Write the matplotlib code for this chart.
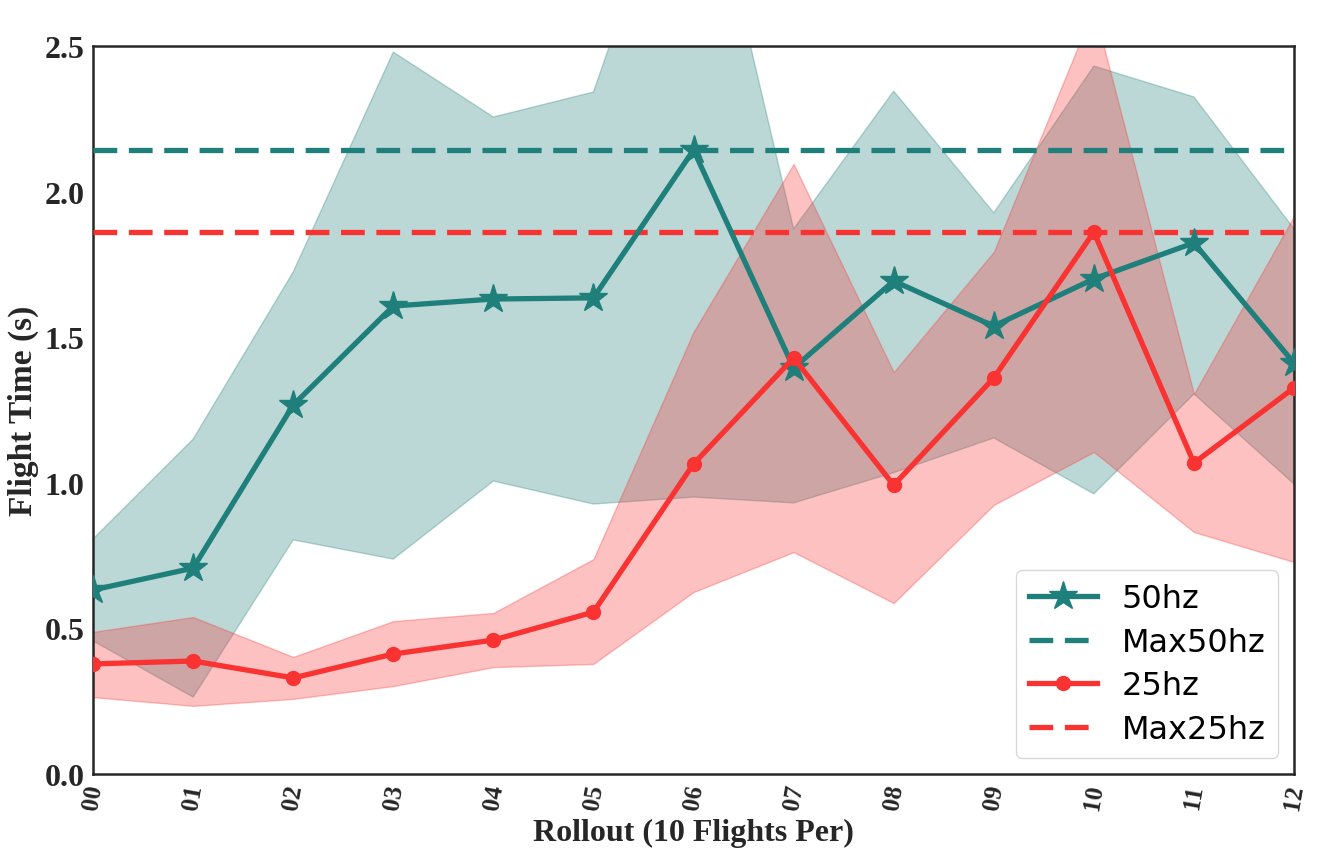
#!/usr/bin/env python3
# -*- coding: utf-8 -*-
"""
Flight time per rollout for the 50hz and 25hz controllers, with spread bands.
"""

import matplotlib
matplotlib.use('Agg')
import matplotlib.pyplot as plt
import numpy as np

rollouts = ['00', '01', '02', '03', '04', '05', '06', '07', '08', '09', '10', '11', '12']

mean_50hz = [0.632, 0.707, 1.267, 1.607, 1.631, 1.635, 2.143, 1.394, 1.693, 1.538, 1.700, 1.824, 1.411]
upper_50hz = [0.807, 1.150, 1.724, 2.479, 2.256, 2.342, 3.33, 1.872, 2.345, 1.927, 2.431, 2.325, 1.872]
lower_50hz = [0.457, 0.264, 0.804, 0.738, 1.006, 0.927, 0.951, 0.931, 1.035, 1.154, 0.962, 1.305, 0.996]

mean_25hz = [0.378, 0.388, 0.330, 0.412, 0.460, 0.556, 1.065, 1.429, 0.992, 1.360, 1.861, 1.068, 1.326]
upper_25hz = [0.488, 0.539, 0.402, 0.525, 0.553, 0.738, 1.518, 2.095, 1.38, 1.793, 2.63, 1.305, 1.916]
lower_25hz = [0.264, 0.234, 0.258, 0.302, 0.367, 0.378, 0.625, 0.762, 0.587, 0.924, 1.106, 0.831, 0.728]

max_50hz = max(mean_50hz)
max_25hz = max(mean_25hz)

TEAL = '#1f7f7a'
RED = '#f93232'


def plot_flight_times(file_out):
    figure = plt.figure(figsize=(13.39, 8.54), dpi=100)
    axes = figure.add_axes([0.0695, 0.0925, 0.8969, 0.8525])
    x = np.arange(len(rollouts))

    axes.fill_between(x, lower_50hz, upper_50hz, color=TEAL, alpha=0.3, linewidth=1)
    axes.fill_between(x, lower_25hz, upper_25hz, color=RED, alpha=0.3, linewidth=1)

    axes.plot(x, mean_50hz, color=TEAL, linewidth=3.8, marker='*', markersize=21,
              label='50hz', zorder=4)
    axes.axhline(max_50hz, color=TEAL, linewidth=3.8, dashes=(4.5, 2.2),
                 label='Max50hz', zorder=3)
    axes.plot(x, mean_25hz, color=RED, linewidth=3.8, marker='o', markersize=10,
              label='25hz', zorder=4)
    axes.axhline(max_25hz, color=RED, linewidth=3.8, dashes=(4.5, 2.2),
                 label='Max25hz', zorder=3)

    axes.set_xlim(0, len(rollouts) - 1)
    axes.set_ylim(0, 2.5)
    axes.set_xticks(x)
    axes.set_xticklabels(rollouts, rotation=80)
    axes.set_yticks([0.0, 0.5, 1.0, 1.5, 2.0, 2.5])
    axes.set_yticklabels(['0.0', '0.5', '1.0', '1.5', '2.0', '2.5'])

    serif = {'family': 'Liberation Serif', 'weight': 'bold'}
    for label in axes.get_xticklabels():
        label.set_fontfamily('Liberation Serif')
        label.set_fontweight('bold')
        label.set_fontsize(18)
        label.set_color('#262626')
    for label in axes.get_yticklabels():
        label.set_fontfamily('Liberation Serif')
        label.set_fontweight('bold')
        label.set_fontsize(23)
        label.set_color('#262626')
    axes.tick_params(length=0, pad=6)

    axes.set_xlabel('Rollout (10 Flights Per)', fontdict=serif, fontsize=23,
                    color='#262626', labelpad=5)
    axes.set_ylabel('Flight Time (s)', fontdict=serif, fontsize=24,
                    color='#262626', labelpad=4)

    for spine in axes.spines.values():
        spine.set_color('#262626')
        spine.set_linewidth(1.8)

    legend = axes.legend(loc='lower right', fontsize=23, frameon=True,
                         handlelength=2.15, borderaxespad=0.5, labelspacing=0.4,
                         handletextpad=0.75, borderpad=0.4)
    legend.get_frame().set_edgecolor('#d0d0d0')

    figure.savefig(file_out)
    plt.close(figure)


if __name__ == '__main__':
    plot_flight_times('out.png')
